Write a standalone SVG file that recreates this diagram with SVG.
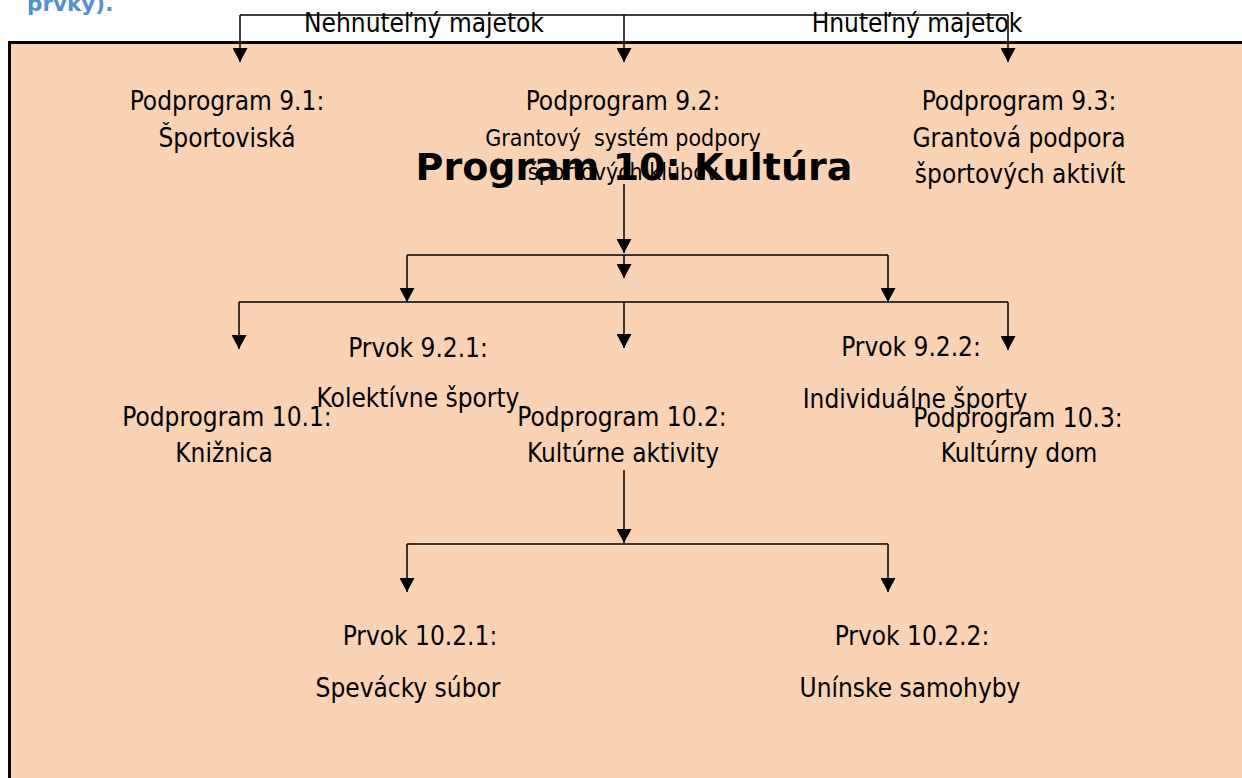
<svg xmlns="http://www.w3.org/2000/svg" width="1242" height="778" viewBox="0 0 1242 778">
  <style>
    .t { font-family: "DejaVu Sans Condensed", "DejaVu Sans", sans-serif; font-stretch: condensed; font-size: 26px; fill: #000; text-anchor: middle; }
    .s { font-size: 23px; }
    .title { font-family: "DejaVu Sans", sans-serif; font-weight: bold; font-size: 38px; fill: #000; text-anchor: middle; }
    .head { font-family: "DejaVu Sans", sans-serif; font-weight: bold; font-size: 21.5px; fill: #558ED5; }
    .wire { fill: none; stroke: #000; stroke-width: 1.5; }
    .arrow { fill: none; stroke: #000; stroke-width: 1.5; marker-end: url(#tip); }
  </style>
  <defs>
    <marker id="tip" viewBox="0 0 15 15" refX="14" refY="7.5" markerWidth="15" markerHeight="15" markerUnits="userSpaceOnUse" orient="auto">
      <path d="M0,0 L14,7.5 L0,15 Z" fill="#000"/>
    </marker>
  </defs>

  <rect width="1242" height="778" fill="#fff"/>

  <!-- heading fragment at the top edge -->
  <text class="head" x="27" y="11">prvky).</text>

  <!-- program frame -->
  <rect id="frame" x="9.5" y="42.5" width="1250" height="760" fill="#FAD3B4" stroke="#000" stroke-width="3"/>

  <!-- connectors -->
  <g id="connectors">
    <path class="wire" d="M240,15 H1008"/>
    <path class="arrow" d="M240,15 V62"/>
    <path class="arrow" d="M624,15 V62"/>
    <path class="arrow" d="M1008,15 V62"/>

    <path class="arrow" d="M624,184 V253"/>
    <path class="wire" d="M407,255 H888"/>
    <path class="arrow" d="M407,255 V302"/>
    <path class="arrow" d="M624,255 V278"/>
    <path class="arrow" d="M888,255 V302"/>
    <path class="wire" d="M239,302 H1008"/>
    <path class="arrow" d="M239,302 V349"/>
    <path class="arrow" d="M624,302 V348"/>
    <path class="arrow" d="M1008,302 V350"/>

    <path class="arrow" d="M624,470 V543"/>
    <path class="wire" d="M407,544 H888"/>
    <path class="arrow" d="M407,544 V592"/>
    <path class="arrow" d="M888,544 V592"/>
  </g>

  <g id="label-nehnutelny">
    <text class="t" x="424" y="32">Nehnuteľný majetok</text>
  </g>
  <g id="label-hnutelny">
    <text class="t" x="917" y="32">Hnuteľný majetok</text>
  </g>

  <g id="podprogram-9-1">
    <text class="t" x="227" y="110">Podprogram 9.1:</text>
    <text class="t" x="227" y="147">Športoviská</text>
  </g>
  <g id="podprogram-9-2">
    <text class="t" x="623" y="110">Podprogram 9.2:</text>
    <text class="t s" x="623" y="146" xml:space="preserve">Grantový  systém podpory</text>
    <text class="t s" x="623" y="180">športových klubov</text>
  </g>
  <g id="podprogram-9-3">
    <text class="t" x="1019" y="110">Podprogram 9.3:</text>
    <text class="t" x="1019" y="147">Grantová podpora</text>
    <text class="t" x="1020" y="183">športových aktivít</text>
  </g>

  <g id="program-10">
    <text class="title" x="634" y="180">Program 10: Kultúra</text>
  </g>

  <g id="prvok-9-2-1">
    <text class="t" x="418" y="357">Prvok 9.2.1:</text>
    <text class="t" x="418" y="407">Kolektívne športy</text>
  </g>
  <g id="prvok-9-2-2">
    <text class="t" x="911" y="356">Prvok 9.2.2:</text>
    <text class="t" x="915" y="408">Individuálne športy</text>
  </g>

  <g id="podprogram-10-1">
    <text class="t" x="227" y="426">Podprogram 10.1:</text>
    <text class="t" x="224" y="462">Knižnica</text>
  </g>
  <g id="podprogram-10-2">
    <text class="t" x="622" y="426">Podprogram 10.2:</text>
    <text class="t" x="623" y="462">Kultúrne aktivity</text>
  </g>
  <g id="podprogram-10-3">
    <text class="t" x="1018" y="427">Podprogram 10.3:</text>
    <text class="t" x="1019" y="462">Kultúrny dom</text>
  </g>

  <g id="prvok-10-2-1">
    <text class="t" x="420" y="645">Prvok 10.2.1:</text>
    <text class="t" x="408" y="697">Spevácky súbor</text>
  </g>
  <g id="prvok-10-2-2">
    <text class="t" x="912" y="645">Prvok 10.2.2:</text>
    <text class="t" x="910" y="697">Unínske samohyby</text>
  </g>
</svg>
